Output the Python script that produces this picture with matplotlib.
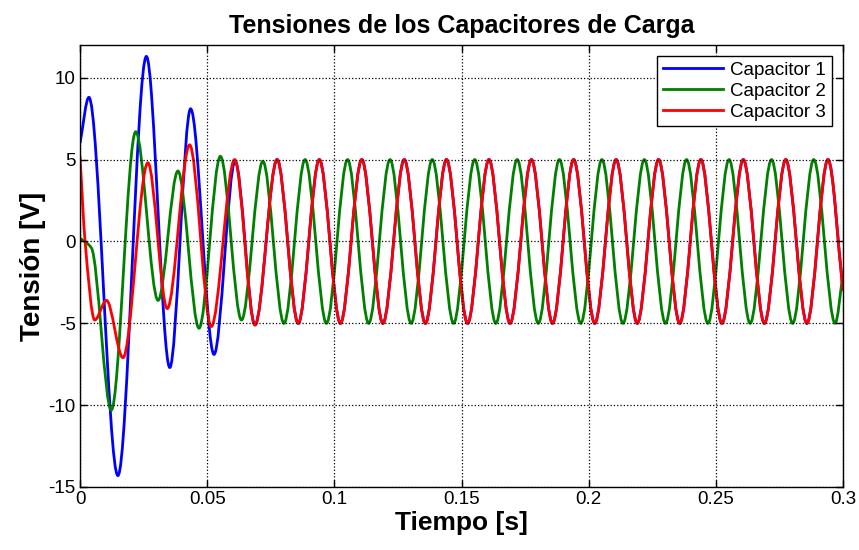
import matplotlib
matplotlib.use('Agg')
import matplotlib.pyplot as plt
from matplotlib.path import Path
from matplotlib.patches import PathPatch
from matplotlib.lines import Line2D

plt.rcParams['font.family'] = ['Liberation Sans', 'DejaVu Sans']
plt.rcParams['axes.unicode_minus'] = False

# extremos (tiempo [s], tension [V])
t_c1 = [0.0, 0.0035, 0.0149, 0.0261, 0.0353, 0.0435, 0.0527, 0.0610, 0.0688,
        0.0775, 0.0858, 0.0941, 0.1024, 0.1108, 0.1191, 0.1275, 0.1358, 0.1441,
        0.1524, 0.1608, 0.1691, 0.1775, 0.1858, 0.1941, 0.2024, 0.2108, 0.2191,
        0.2275, 0.2358, 0.2441, 0.2524, 0.2608, 0.2691, 0.2775, 0.2858, 0.2941, 0.3]
v_c1 = [6.0, 8.8, -14.3, 11.3, -7.7, 8.1, -6.9, 4.9, -5.1,
        5.0, -5.0, 5.0, -5.0, 5.0, -5.0, 5.0, -5.0, 5.0,
        -5.0, 5.0, -5.0, 5.0, -5.0, 5.0, -5.0, 5.0, -5.0,
        5.0, -5.0, 5.0, -5.0, 5.0, -5.0, 5.0, -5.0, 5.0, -3.0]

t_c2 = [0.0, 0.0045, 0.0123, 0.0219, 0.0307, 0.0385, 0.0468, 0.0552, 0.0635,
        0.0719, 0.0802, 0.0885, 0.0969, 0.1052, 0.1135, 0.1219, 0.1302, 0.1385,
        0.1469, 0.1552, 0.1635, 0.1719, 0.1802, 0.1885, 0.1969, 0.2052, 0.2135,
        0.2219, 0.2302, 0.2385, 0.2469, 0.2552, 0.2635, 0.2719, 0.2802, 0.2885,
        0.2969, 0.3]
v_c2 = [0.2, -0.4, -10.3, 6.7, -3.6, 4.3, -5.3, 5.2, -4.8,
        4.9, -5.0, 5.0, -5.0, 5.0, -5.0, 5.0, -5.0, 5.0,
        -5.0, 5.0, -5.0, 5.0, -5.0, 5.0, -5.0, 5.0, -5.0,
        5.0, -5.0, 5.0, -5.0, 5.0, -5.0, 5.0, -5.0, 5.0,
        -5.0, -2.0]

t_c3 = [0.0, 0.0020, 0.0058, 0.0104, 0.0169, 0.0267, 0.0343, 0.0431, 0.0516,
        0.0608, 0.0688, 0.0775, 0.0858, 0.0941, 0.1024, 0.1108, 0.1191, 0.1275,
        0.1358, 0.1441, 0.1524, 0.1608, 0.1691, 0.1775, 0.1858, 0.1941, 0.2024,
        0.2108, 0.2191, 0.2275, 0.2358, 0.2441, 0.2524, 0.2608, 0.2691, 0.2775,
        0.2858, 0.2941, 0.3]
v_c3 = [5.2, 0.0, -4.8, -3.6, -7.1, 4.8, -4.1, 5.9, -5.2,
        5.0, -5.1, 5.0, -5.0, 5.0, -5.0, 5.0, -5.0, 5.0,
        -5.0, 5.0, -5.0, 5.0, -5.0, 5.0, -5.0, 5.0, -5.0,
        5.0, -5.0, 5.0, -5.0, 5.0, -5.0, 5.0, -5.0, 5.0,
        -5.0, 5.0, -3.0]

nombres = ['Capacitor 1', 'Capacitor 2', 'Capacitor 3']
colores = [(0, 0, 1), (0, 0.5, 0), (1, 0, 0)]
xticks = [0, 0.05, 0.1, 0.15, 0.2, 0.25, 0.3]
xlabels = ['0', '0.05', '0.1', '0.15', '0.2', '0.25', '0.3']
yticks = [-15, -10, -5, 0, 5, 10]


def pendientes(t, v):
    n = len(t)
    d = [(v[i + 1] - v[i]) / (t[i + 1] - t[i]) for i in range(n - 1)]
    h = [t[i + 1] - t[i] for i in range(n - 1)]
    m = [0.0] * n
    m[0] = d[0]
    m[-1] = d[-1]
    for k in range(1, n - 1):
        if d[k - 1] * d[k] <= 0:
            m[k] = 0.0
        else:
            w1 = 2 * h[k] + h[k - 1]
            w2 = h[k] + 2 * h[k - 1]
            m[k] = (w1 + w2) / (w1 / d[k - 1] + w2 / d[k])
    return m


def curva(t, v):
    # curva suave (bezier) que pasa por los puntos leidos
    m = pendientes(t, v)
    verts = [(t[0], v[0])]
    codes = [Path.MOVETO]
    for i in range(len(t) - 1):
        h = t[i + 1] - t[i]
        verts.append((t[i] + h / 3, v[i] + m[i] * h / 3))
        verts.append((t[i + 1] - h / 3, v[i + 1] - m[i + 1] * h / 3))
        verts.append((t[i + 1], v[i + 1]))
        codes += [Path.CURVE4] * 3
    return Path(verts, codes)


fig = plt.figure(figsize=(8.59, 5.50), dpi=100)
ax = fig.add_axes([80 / 859, 63 / 550, 763 / 859, 442 / 550])

series = [(t_c1, v_c1), (t_c2, v_c2), (t_c3, v_c3)]
handles = []
for (t, v), nom, col in zip(series, nombres, colores):
    ax.add_patch(PathPatch(curva(t, v), facecolor='none', edgecolor=col, lw=2.0))
    handles.append(Line2D([], [], color=col, lw=2.0, label=nom))

ax.set_xlim(0, 0.3)
ax.set_ylim(-15, 12)
ax.set_xticks(xticks)
ax.set_xticklabels(xlabels)
ax.set_yticks(yticks)
ax.tick_params(direction='in', length=5, top=True, right=True, labelsize=13.5, width=1, pad=3)
ax.grid(True, linestyle=':', color='black', linewidth=0.9)
for s in ax.spines.values():
    s.set_linewidth(1.0)

ax.set_title('Tensiones de los Capacitores de Carga', fontsize=18, fontweight='bold', pad=9)
ax.set_xlabel('Tiempo [s]', fontsize=19, fontweight='bold', labelpad=2)
ax.set_ylabel('Tensión [V]', fontsize=20, fontweight='bold', labelpad=2)

leg = ax.legend(handles=handles, loc='upper right', fontsize=13.5, fancybox=False,
                framealpha=1, edgecolor='black', borderaxespad=0.6,
                handlelength=3.2, handletextpad=0.4, labelspacing=0.2,
                borderpad=0.3)
leg.get_frame().set_linewidth(1.0)

fig.savefig('out.png', dpi=100, facecolor='white')
